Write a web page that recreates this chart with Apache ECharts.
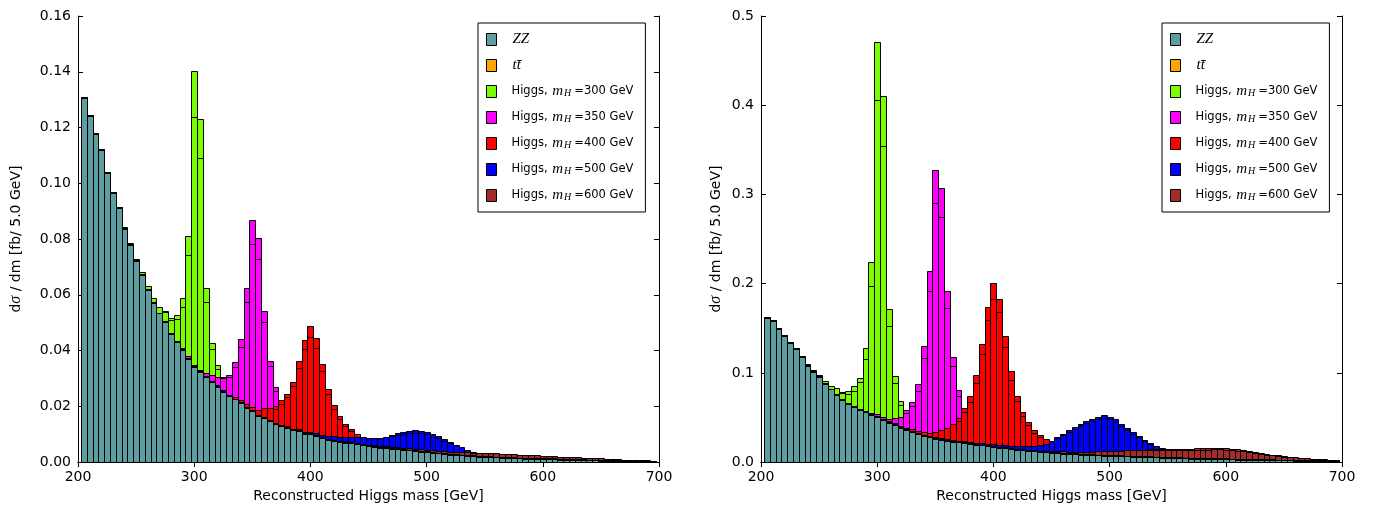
<!DOCTYPE html>
<html><head><meta charset="utf-8">
<script src="https://cdn.jsdelivr.net/npm/echarts@6/dist/echarts.min.js"></script>
<style>html,body{margin:0;padding:0;background:#fff}#c{width:1383px;height:508px}</style>
</head><body><div id="c"></div>
<script>
// ---------- bins (centres, GeV) ----------
const binCenters = [];
for (let m = 205; m <= 695; m += 5) binCenters.push(m);
const binWidth = 5;

// ---------- LEFT PANEL data (fb / 5 GeV) ----------
const zzL = [
.1307,.1243,.1176,.1119,.1037,.0965,.0911,.0837,.0780,.0721,
.0670,.0619,.0571,.0533,.0503,.0459,.0430,.0402,.0371,.0340,
.0322,.0304,.0288,.0270,.0252,.0236,.0225,.0213,.0195,.0183,
.0165,.0159,.0147,.0135,.0129,.0123,.0114,.0112,.0102,.0100,
.0094,.0086,.0080,.0077,.0073,.0070,.0067,.0064,.0061,.0058,
.0055,.0052,.0050,.0048,.0046,.0044,.0042,.0040,.0038,.0036,
.0033,.0031,.0029,.0027,.0026,.0024,.0023,.0022,.0020,.0019,
.0018,.0017,.0016,.0015,.0014,.0013,.0012,.0012,.0011,.0010,
.0010,.0010,.0009,.0008,.0008,.0007,.0007,.0006,.0006,.0005,
.0005,.0004,.0004,.0003,.0003,.0002,.0002,.0002,.0001];
const ttL = [
.0003,.0003,.0003,.0003,.0003,.0003,.0003,.0003,.0003,.0003,
.0003,.0003,.0003,.0003,.0003,.0003,.0003,.0003,.0003,.0003,
.0003,.0003,.0003,.0003,.0003,.0003,.0003,.0003,.0003,.0003,
.0003,.0003,.0003,.0003,.0003,.0003,.0003,.0003,.0003,.0003,
.0003,.0003,.0003,.0003,.0003,.0003,.0003,.0003,.0003,.0003,
.0003,.0003,.0003,.0003,.0003,.0003,.0003,.0003,.0003,.0003,
.0003,.0003,.0003,.0003,.0003,.0003,.0003,.0003,.0003,.0003,
.0003,.0003,.0003,.0003,.0003,.0003,.0003,.0003,.0003,.0003,
.0003,.0003,.0003,.0003,.0003,.0003,.0003,.0003,.0003,.0003,
.0003,.0003,.0003,.0003,.0003,.0003,.0003,.0003,.0003];
const h300L = [
0,0,0,0,0,.0001,.0001,.0002,.0002,.0004,
.0008,.0008,.0016,.0020,.0036,.0055,.0094,.0183,.0436,.1060,
.0907,.0317,.0135,.0074,.0035,.0020,.0012,.0008,.0005,.0003,
.0002,.0001,0,0,0,0,0,0,0,0,
0,0,0,0,0,0,0,0,0,0,
0,0,0,0,0,0,0,0,0,0,
0,0,0,0,0,0,0,0,0,0,
0,0,0,0,0,0,0,0,0,0,
0,0,0,0,0,0,0,0,0,0,
0,0,0,0,0,0,0,0,0];
const v300L = [
0,0,0,0,0,0,0,0,0,0,
0,0,0,0,.0005,.0009,.0015,.0030,.0068,.0165,
.0140,.0049,.0020,.0012,.0006,0,0,0,0,0,
0,0,0,0,0,0,0,0,0,0,
0,0,0,0,0,0,0,0,0,0,
0,0,0,0,0,0,0,0,0,0,
0,0,0,0,0,0,0,0,0,0,
0,0,0,0,0,0,0,0,0,0,
0,0,0,0,0,0,0,0,0,0,
0,0,0,0,0,0,0,0,0];
const h350L = [
0,0,0,0,0,0,0,0,0,0,
0,0,0,0,0,.0002,.0002,.0003,.0005,.0007,
.0007,.0012,.0023,.0034,.0052,.0075,.0131,.0226,.0428,.0682,
.0637,.0381,.0214,.0131,.0075,.0045,.0030,.0020,.0015,.0010,
.0008,.0005,.0003,.0002,0,0,0,0,0,0,
0,0,0,0,0,0,0,0,0,0,
0,0,0,0,0,0,0,0,0,0,
0,0,0,0,0,0,0,0,0,0,
0,0,0,0,0,0,0,0,0,0,
0,0,0,0,0,0,0,0,0];
const v350L = [
0,0,0,0,0,0,0,0,0,0,
0,0,0,0,0,0,0,0,0,0,
0,0,0,0,.0006,.0009,.0018,.0030,.0053,.0084,
.0075,.0042,.0020,.0015,.0010,0,0,0,0,0,
0,0,0,0,0,0,0,0,0,0,
0,0,0,0,0,0,0,0,0,0,
0,0,0,0,0,0,0,0,0,0,
0,0,0,0,0,0,0,0,0,0,
0,0,0,0,0,0,0,0,0,0,
0,0,0,0,0,0,0,0,0];
const h400L = [
0,0,0,0,0,0,0,0,0,0,
0,0,0,0,0,0,0,0,0,0,
.0001,.0001,.0001,.0002,.0002,.0003,.0004,.0006,.0009,.0011,
.0018,.0033,.0045,.0062,.0090,.0119,.0172,.0247,.0333,.0384,
.0348,.0264,.0180,.0124,.0088,.0063,.0047,.0032,.0020,.0012,
.0008,.0005,.0003,.0002,0,0,0,0,0,0,
0,0,0,0,0,0,0,0,0,0,
0,0,0,0,0,0,0,0,0,0,
0,0,0,0,0,0,0,0,0,0,
0,0,0,0,0,0,0,0,0];
const v400L = [
0,0,0,0,0,0,0,0,0,0,
0,0,0,0,0,0,0,0,0,0,
0,0,0,0,0,0,0,0,0,0,
0,0,0,.0009,.0012,.0011,.0017,.0025,.0034,.0037,
.0035,.0027,.0018,.0012,.0010,.0007,.0005,0,0,0,
0,0,0,0,0,0,0,0,0,0,
0,0,0,0,0,0,0,0,0,0,
0,0,0,0,0,0,0,0,0,0,
0,0,0,0,0,0,0,0,0,0,
0,0,0,0,0,0,0,0,0];
const h500L = [
0,0,0,0,0,0,0,0,0,0,
0,0,0,0,0,0,0,0,0,0,
0,0,0,0,0,0,0,0,0,0,
.0001,.0001,.0001,.0002,.0002,.0002,.0003,.0003,.0004,.0005,
.0006,.0008,.0010,.0012,.0015,.0018,.0021,.0024,.0026,.0026,
.0029,.0033,.0038,.0046,.0054,.0062,.0068,.0071,.0072,.0070,
.0063,.0059,.0050,.0043,.0034,.0028,.0019,.0013,.0009,.0006,
.0004,.0002,.0001,0,0,0,0,0,0,0,
0,0,0,0,0,0,0,0,0,0,
0,0,0,0,0,0,0,0,0];
const v500L = [
0,0,0,0,0,0,0,0,0,0,
0,0,0,0,0,0,0,0,0,0,
0,0,0,0,0,0,0,0,0,0,
0,0,0,0,0,0,0,0,0,0,
0,0,0,0,0,0,0,0,0,0,
0,0,0,.0005,.0006,.0007,.0008,.0009,.0009,.0009,
.0008,.0007,.0006,.0005,0,0,0,0,0,0,
0,0,0,0,0,0,0,0,0,0,
0,0,0,0,0,0,0,0,0,0,
0,0,0,0,0,0,0,0,0];
const h600L = [
0,0,0,0,0,0,0,0,0,0,
0,0,0,0,0,0,0,0,0,0,
0,0,0,0,0,0,0,0,0,0,
0,0,0,0,0,0,0,0,0,0,
0,0,0,0,0,.0001,.0001,.0001,.0002,.0002,
.0002,.0003,.0003,.0003,.0004,.0004,.0004,.0005,.0005,.0005,
.0006,.0006,.0007,.0007,.0008,.0008,.0009,.0009,.0010,.0010,
.0010,.0011,.0011,.0011,.0011,.0011,.0011,.0011,.0010,.0010,
.0009,.0009,.0008,.0008,.0007,.0007,.0006,.0006,.0005,.0005,
.0004,.0004,.0003,.0003,.0002,.0002,.0002,.0001,.0001];

// ---------- RIGHT PANEL data (fb / 5 GeV) ----------
const zzR = [
.1618,.1581,.1496,.1414,.1332,.1266,.1173,.1080,.1013,.0955,
.0878,.0815,.0755,.0700,.0655,.0617,.0583,.0557,.0530,.0505,
.0473,.0443,.0415,.0385,.0360,.0340,.0315,.0295,.0277,.0263,
.0253,.0242,.0230,.0221,.0212,.0204,.0195,.0187,.0179,.0171,
.0163,.0155,.0147,.0140,.0133,.0127,.0121,.0115,.0110,.0105,
.0100,.0096,.0092,.0088,.0085,.0082,.0079,.0076,.0073,.0070,
.0068,.0066,.0063,.0061,.0059,.0056,.0054,.0052,.0050,.0048,
.0046,.0044,.0042,.0040,.0039,.0037,.0036,.0035,.0033,.0032,
.0030,.0029,.0028,.0026,.0025,.0024,.0023,.0022,.0020,.0019,
.0018,.0017,.0016,.0015,.0014,.0013,.0012,.0011,.0010];
const ttR = [
.0009,.0009,.0009,.0009,.0009,.0009,.0009,.0009,.0009,.0009,
.0009,.0009,.0009,.0009,.0009,.0009,.0009,.0009,.0009,.0009,
.0009,.0009,.0009,.0009,.0009,.0009,.0009,.0009,.0009,.0009,
.0009,.0009,.0009,.0009,.0009,.0009,.0009,.0009,.0009,.0009,
.0009,.0009,.0009,.0009,.0009,.0009,.0009,.0009,.0009,.0009,
.0009,.0009,.0009,.0009,.0009,.0009,.0009,.0009,.0009,.0009,
.0009,.0009,.0009,.0009,.0009,.0009,.0009,.0009,.0009,.0009,
.0009,.0009,.0009,.0009,.0009,.0009,.0009,.0009,.0009,.0009,
.0009,.0009,.0009,.0009,.0009,.0009,.0009,.0009,.0009,.0009,
.0009,.0009,.0009,.0009,.0009,.0009,.0009,.0009,.0009];
const h300R = [
0,0,0,0,0,.0003,.0005,.0007,.0010,.0015,
.0024,.0031,.0065,.0076,.0128,.0222,.0356,.0709,.1701,.4194,
.3621,.1268,.0542,.0294,.0150,.0080,.0045,.0030,.0020,.0015,
.0010,.0007,.0005,.0003,.0002,0,0,0,0,0,
0,0,0,0,0,0,0,0,0,0,
0,0,0,0,0,0,0,0,0,0,
0,0,0,0,0,0,0,0,0,0,
0,0,0,0,0,0,0,0,0,0,
0,0,0,0,0,0,0,0,0,0,
0,0,0,0,0,0,0,0,0];
const v300R = [
0,0,0,0,0,0,0,0,0,0,
0,0,0,.0015,.0030,.0049,.0052,.0119,.0267,.0649,
.0557,.0193,.0081,.0045,.0025,0,0,0,0,0,
0,0,0,0,0,0,0,0,0,0,
0,0,0,0,0,0,0,0,0,0,
0,0,0,0,0,0,0,0,0,0,
0,0,0,0,0,0,0,0,0,0,
0,0,0,0,0,0,0,0,0,0,
0,0,0,0,0,0,0,0,0,0,
0,0,0,0,0,0,0,0,0];
const h350R = [
0,0,0,0,0,0,0,0,0,0,
0,0,0,0,.0003,.0004,.0005,.0008,.0010,.0020,
.0024,.0032,.0071,.0109,.0212,.0324,.0550,.0996,.1861,.3000,
.2807,.1664,.0934,.0575,.0330,.0180,.0100,.0060,.0040,.0030,
.0020,.0015,.0010,.0007,.0005,.0003,0,0,0,0,
0,0,0,0,0,0,0,0,0,0,
0,0,0,0,0,0,0,0,0,0,
0,0,0,0,0,0,0,0,0,0,
0,0,0,0,0,0,0,0,0,0,
0,0,0,0,0,0,0,0,0];
const v350R = [
0,0,0,0,0,0,0,0,0,0,
0,0,0,0,0,0,0,0,0,0,
0,0,0,0,.0030,.0048,.0075,.0129,.0234,.0364,
.0326,.0185,.0100,.0067,.0040,0,0,0,0,0,
0,0,0,0,0,0,0,0,0,0,
0,0,0,0,0,0,0,0,0,0,
0,0,0,0,0,0,0,0,0,0,
0,0,0,0,0,0,0,0,0,0,
0,0,0,0,0,0,0,0,0,0,
0,0,0,0,0,0,0,0,0];
const h400R = [
0,0,0,0,0,0,0,0,0,0,
0,0,0,0,0,0,0,0,.0003,.0004,
.0005,.0007,.0010,.0015,.0018,.0020,.0023,.0035,.0042,.0067,
.0094,.0135,.0191,.0260,.0380,.0525,.0768,.1129,.1553,.1828,
.1661,.1250,.0868,.0596,.0420,.0315,.0228,.0180,.0144,.0095,
.0065,.0045,.0030,.0020,.0012,.0008,.0005,.0003,0,0,
0,0,0,0,0,0,0,0,0,0,
0,0,0,0,0,0,0,0,0,0,
0,0,0,0,0,0,0,0,0,0,
0,0,0,0,0,0,0,0,0];
const v400R = [
0,0,0,0,0,0,0,0,0,0,
0,0,0,0,0,0,0,0,0,0,
0,0,0,0,0,0,0,0,0,0,
0,0,0,.0030,.0040,.0063,.0085,.0112,.0149,.0175,
.0155,.0119,.0100,.0059,.0046,.0039,.0030,.0025,0,0,
0,0,0,0,0,0,0,0,0,0,
0,0,0,0,0,0,0,0,0,0,
0,0,0,0,0,0,0,0,0,0,
0,0,0,0,0,0,0,0,0,0,
0,0,0,0,0,0,0,0,0];
const h500R = [
0,0,0,0,0,0,0,0,0,0,
0,0,0,0,0,0,0,0,0,0,
0,0,0,0,0,0,0,0,.0005,.0006,
.0008,.0009,.0010,.0011,.0012,.0013,.0015,.0016,.0018,.0019,
.0021,.0023,.0026,.0030,.0036,.0043,.0052,.0064,.0085,.0123,
.0173,.0214,.0255,.0296,.0336,.0369,.0398,.0423,.0441,.0429,
.0402,.0356,.0315,.0269,.0226,.0185,.0149,.0122,.0095,.0072,
.0052,.0038,.0027,.0018,.0012,.0008,.0005,.0003,0,0,
0,0,0,0,0,0,0,0,0,0,
0,0,0,0,0,0,0,0,0];
const v500R = [
0,0,0,0,0,0,0,0,0,0,
0,0,0,0,0,0,0,0,0,0,
0,0,0,0,0,0,0,0,0,0,
0,0,0,0,0,0,0,0,0,0,
0,0,0,0,0,0,0,0,0,0,
.0015,.0018,.0020,.0021,.0022,.0024,.0025,.0026,.0027,.0026,
.0025,.0023,.0022,.0020,.0018,.0015,.0012,0,0,0,
0,0,0,0,0,0,0,0,0,0,
0,0,0,0,0,0,0,0,0,0,
0,0,0,0,0,0,0,0,0];
const h600R = [
0,0,0,0,0,0,0,0,0,0,
0,0,0,0,0,0,0,0,0,0,
0,0,0,0,0,0,0,0,0,0,
0,0,0,0,0,0,0,0,0,0,
.0002,.0002,.0003,.0003,.0004,.0004,.0005,.0006,.0008,.0010,
.0012,.0014,.0016,.0019,.0022,.0026,.0030,.0035,.0040,.0045,
.0050,.0055,.0060,.0065,.0070,.0075,.0080,.0085,.0090,.0093,
.0095,.0098,.0100,.0103,.0105,.0109,.0112,.0117,.0118,.0116,
.0113,.0106,.0098,.0088,.0078,.0068,.0060,.0052,.0046,.0040,
.0034,.0028,.0024,.0020,.0017,.0014,.0011,.0009,.0007];
const v600R = [
0,0,0,0,0,0,0,0,0,0,
0,0,0,0,0,0,0,0,0,0,
0,0,0,0,0,0,0,0,0,0,
0,0,0,0,0,0,0,0,0,0,
0,0,0,0,0,0,0,0,0,0,
0,0,0,0,0,0,0,0,0,0,
0,0,0,0,0,0,.0010,.0011,.0012,.0012,
.0013,.0013,.0014,.0014,.0015,.0015,.0016,.0016,.0016,.0016,
.0015,.0014,.0013,.0012,.0011,.0010,.0009,.0008,.0007,.0006,
.0005,0,0,0,0,0,0,0,0];

// ---------- labels / styles ----------
const seriesNames = ['ZZ', 'ttbar', 'H300', 'H350', 'H400', 'H500', 'H600'];
const seriesColors = {ZZ:'#5F9EA0', ttbar:'#FFA500', H300:'#7CFC00', H350:'#FF00FF', H400:'#FF0000', H500:'#0000FF', H600:'#A52A2A'};
const legendText = {
  ZZ: '{g|}{m|ZZ}',
  ttbar: '{g|}{m|tt\u0304}',
  H300: '{g|}Higgs, {m|m}{s|H}=300 GeV',
  H350: '{g|}Higgs, {m|m}{s|H}=350 GeV',
  H400: '{g|}Higgs, {m|m}{s|H}=400 GeV',
  H500: '{g|}Higgs, {m|m}{s|H}=500 GeV',
  H600: '{g|}Higgs, {m|m}{s|H}=600 GeV'
};
const xTitle = 'Reconstructed Higgs mass [GeV]';
const yTitle = 'd{m|\u03c3} / dm [fb/ 5.0 GeV]';

const FONT = 'DejaVu Sans';

function barSeries(name, g, tops, inners) {
  const color = seriesColors[name];
  const data = binCenters.map((c, i) => [c - binWidth / 2, c + binWidth / 2, tops[i], inners ? inners[i] : 0]);
  return {
    type: 'custom', name, xAxisIndex: g * 2, yAxisIndex: g * 2,
    itemStyle: {color, borderColor: '#000', borderWidth: 1},
    encode: {x: [0, 1], y: 2}, data, silent: true, animation: false, clip: true,
    renderItem(params, api) {
      const lo = api.value(0), hi = api.value(1), top = api.value(2), inner = api.value(3);
      if (!(top > 0)) return null;
      const p0 = api.coord([lo, 0]), p1 = api.coord([hi, top]);
      const x0 = Math.round(p0[0]) + 0.5, x1 = Math.round(p1[0]) + 0.5;
      const yb = Math.round(p0[1]) + 0.5, yt = Math.round(p1[1]) + 0.5;
      const children = [{type: 'rect', shape: {x: x0, y: yt, width: x1 - x0, height: yb - yt},
        style: {fill: color, stroke: '#000', lineWidth: 1}}];
      if (inner > 0) {
        const yi = Math.round(api.coord([lo, inner])[1]) + 0.5;
        children.push({type: 'line', shape: {x1: x0, y1: yi, x2: x1, y2: yi}, style: {stroke: '#000', lineWidth: 1}});
      }
      return {type: 'group', children};
    }
  };
}

function panelSeries(g, zz, tt, sig, up) {
  const bg = zz.map((v, i) => v + tt[i]);
  const out = [];
  ['H300', 'H350', 'H400', 'H500', 'H600'].forEach((n, j) => {
    const h = sig[j], v = up[j];
    const tops = bg.map((b, i) => b + h[i]);
    const inners = v ? tops.map((t, i) => v[i] > 0 ? t - v[i] : 0) : null;
    out.push(barSeries(n, g, tops, inners));
  });
  out.push(barSeries('ttbar', g, bg, null));
  out.push(barSeries('ZZ', g, zz, null));
  return out;
}

const grids = [
  {left: 78, top: 16, width: 581, height: 449},
  {left: 761, top: 16, width: 581, height: 449}
];
const yMax = [0.16, 0.5], yInt = [0.02, 0.1], yDec = [2, 1], yNameGap = [54, 37];

const xAxes = [], yAxes = [];
[0, 1].forEach(g => {
  const tick = {show: true, inside: true, length: 5, lineStyle: {color: '#000', width: 1}};
  const line = {show: true, lineStyle: {color: '#000', width: 1}};
  xAxes.push({type: 'value', gridIndex: g, position: 'bottom', min: 200, max: 700, interval: 100,
    axisLine: line, axisTick: tick, splitLine: {show: false},
    axisLabel: {color: '#000', fontSize: 14, fontFamily: FONT, margin: 8},
    name: xTitle, nameLocation: 'middle', nameGap: 22,
    nameTextStyle: {color: '#000', fontSize: 14, fontFamily: FONT}});
  xAxes.push({type: 'value', gridIndex: g, position: 'top', min: 200, max: 700, interval: 100,
    axisLine: line, axisTick: tick, splitLine: {show: false}, axisLabel: {show: false}});
  yAxes.push({type: 'value', gridIndex: g, position: 'left', min: 0, max: yMax[g], interval: yInt[g],
    axisLine: line, axisTick: tick, splitLine: {show: false},
    axisLabel: {color: '#000', fontSize: 14, fontFamily: FONT, margin: 7, formatter: v => v.toFixed(yDec[g])},
    name: yTitle, nameLocation: 'middle', nameGap: yNameGap[g], nameRotate: 90,
    nameTextStyle: {color: '#000', fontSize: 14, fontFamily: FONT,
      rich: {m: {fontFamily: 'Liberation Serif', fontStyle: 'italic', fontSize: 16, color: '#000'}}}});
  yAxes.push({type: 'value', gridIndex: g, position: 'right', min: 0, max: yMax[g], interval: yInt[g],
    axisLine: line, axisTick: tick, splitLine: {show: false}, axisLabel: {show: false}});
});

function makeLegend(left) {
  return {
    left, top: 23, orient: 'vertical', selectedMode: false,
    backgroundColor: '#fff', borderColor: '#000', borderWidth: 1, borderRadius: 0,
    padding: [9, 12, 9, 8], itemGap: 11, itemWidth: 10, itemHeight: 12,
    data: seriesNames.map(n => ({name: n, icon: 'rect',
      itemStyle: {color: seriesColors[n], borderColor: '#000', borderWidth: 1}})),
    formatter: n => legendText[n],
    textStyle: {color: '#000', fontSize: 11.5, fontFamily: FONT, lineHeight: 14,
      rich: {
        g: {width: 10, lineHeight: 14},
        m: {fontFamily: 'Liberation Serif', fontStyle: 'italic', fontSize: 15, lineHeight: 14, color: '#000', padding: [0, 1, 0, 1]},
        s: {fontFamily: 'Liberation Serif', fontStyle: 'italic', fontSize: 10, color: '#000', verticalAlign: 'bottom', lineHeight: 10, padding: [0, 3, 0, 0]}
      }}
  };
}

const series = [].concat(
  panelSeries(0, zzL, ttL, [h300L, h350L, h400L, h500L, h600L], [v300L, v350L, v400L, v500L, null]),
  panelSeries(1, zzR, ttR, [h300R, h350R, h400R, h500R, h600R], [v300R, v350R, v400R, v500R, v600R])
);

const chart = echarts.init(document.getElementById('c'), null, {renderer: 'canvas'});
chart.setOption({
  animation: false,
  backgroundColor: '#fff',
  grid: grids,
  xAxis: xAxes,
  yAxis: yAxes,
  legend: [makeLegend(478), makeLegend(1162)],
  series
});
</script>
</body></html>
